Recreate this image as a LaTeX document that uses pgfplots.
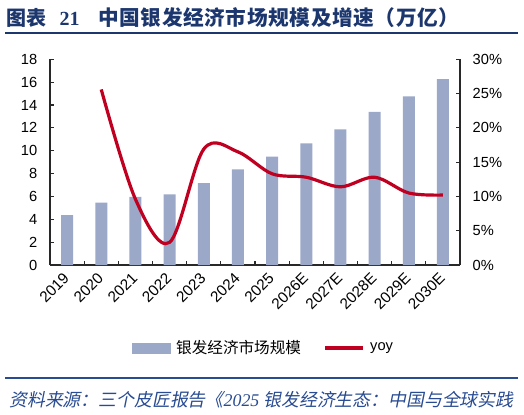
\documentclass[border=0pt]{standalone}
\usepackage{pgfplots}
\pgfplotsset{compat=1.18}
\usepackage{fontspec}
\setmainfont{Liberation Sans}
\newfontfamily\cjk{Noto Sans CJK SC}
\newfontfamily\cjkt{Noto Sans CJK SC}[LetterSpace=3]
\newfontfamily\cjki{Noto Sans CJK SC}[FakeSlant=0.2]
\newfontfamily\tnr{Liberation Serif}
\definecolor{barc}{RGB}{155,168,200}
\definecolor{linec}{RGB}{192,0,32}
\definecolor{titc}{RGB}{28,54,110}
\definecolor{footc}{RGB}{40,75,145}
\definecolor{axc}{RGB}{40,40,40}
\begin{document}
\begin{tikzpicture}
\begin{scope}[x=0.75pt,y=0.75pt]
\path[use as bounding box] (0,0) rectangle (524,414);
\node[anchor=west, text=titc, inner sep=0pt] at (6,414-18) {\fontsize{15pt}{17pt}\selectfont\cjk\bfseries 图表\hspace{10pt}{\tnr\bfseries 21}\hspace{14pt}{\fontsize{15.5pt}{17pt}\selectfont\cjkt\bfseries 中国银发经济市场规模及增速（万亿）}};
\draw[titc, line width=1.4pt] (5,414-33) -- (518,414-33);
\draw[footc, line width=1.1pt] (5,414-378) -- (518,414-378);
\node[anchor=west, text=footc, inner sep=0pt] at (9,414-400) {\fontsize{13.4pt}{15pt}\selectfont\cjki 资料来源：三个皮匠报告《{\tnr\itshape 2025} 银发经济生态：中国与全球实践};
\end{scope}

\begin{axis}[
  at={(37.5pt,111.75pt)}, anchor=south west,
  scale only axis, width=307.5pt, height=154.3pt,
  xmin=-0.5, xmax=11.5, ymin=0, ymax=18,
  ytick={0,2,...,18},
  xtick={0,...,11},
  xticklabels={2019,2020,2021,2022,2023,2024,2025,2026E,2027E,2028E,2029E,2030E},
  major x tick style={draw=none},
  minor xtick={0.5,1.5,...,10.5},
  axis y line*=left, axis x line*=bottom,
  tick align=inside,
  major tick length=3pt, minor tick length=3pt,
  axis line style={axc, line width=0.9pt},
  every tick/.style={axc, line width=0.8pt},
  /pgf/number format/assume math mode=true,
  tick label style={font=\fontsize{11pt}{12pt}\selectfont},
  yticklabel style={xshift=-6pt},
  x tick label style={font=\fontsize{11.5pt}{12pt}\selectfont, xshift=-3.5pt, yshift=0pt, rotate=45, anchor=north east},
]
\addplot[ybar, bar width=9pt, fill=barc, draw=none] coordinates {
(0,4.37) (1,5.45) (2,5.95) (3,6.18) (4,7.17) (5,8.37) (6,9.48) (7,10.65) (8,11.87) (9,13.39) (10,14.76) (11,16.27)};
\end{axis}

\begin{axis}[
  at={(37.5pt,111.75pt)}, anchor=south west,
  scale only axis, width=307.5pt, height=154.3pt,
  xmin=-0.5, xmax=11.5, ymin=0, ymax=30,
  ytick={0,5,...,30},
  yticklabel={\pgfmathprintnumber{\tick}\%},
  axis y line*=right, axis x line=none,
  tick align=inside,
  major tick length=3pt,
  axis line style={axc, line width=0.9pt},
  every tick/.style={axc, line width=0.8pt},
  /pgf/number format/assume math mode=true,
  tick label style={font=\fontsize{11pt}{12pt}\selectfont},
  yticklabel style={xshift=6pt},
  legend columns=2,
  legend style={draw=none, at={(0.522,-0.403)}, anchor=center, fill=none,
    font=\fontsize{11pt}{12pt}\selectfont,
    /tikz/every even column/.append style={column sep=15pt}},
]
\addlegendimage{legend image code/.code={\fill[barc] (0pt,-3.75pt) rectangle (28.5pt,3.75pt);}}
\addlegendentry{\hspace{2pt}{\fontsize{11.7pt}{12pt}\selectfont\cjk 银发经济市场规模}}
\addplot[linec, line width=2.4pt, smooth, tension=0.55,
  legend image code/.code={\draw[linec, line width=2.4pt] (0pt,0pt) -- (28.5pt,0pt);}] coordinates {
(1,25.6) (2,9.6) (3,3.3) (4,16.9) (5,16.5) (6,13.3) (7,12.8) (8,11.4) (9,12.8) (10,10.5) (11,10.2)};
\addlegendentry{\hspace{2pt}yoy}
\end{axis}
\end{tikzpicture}
\end{document}
